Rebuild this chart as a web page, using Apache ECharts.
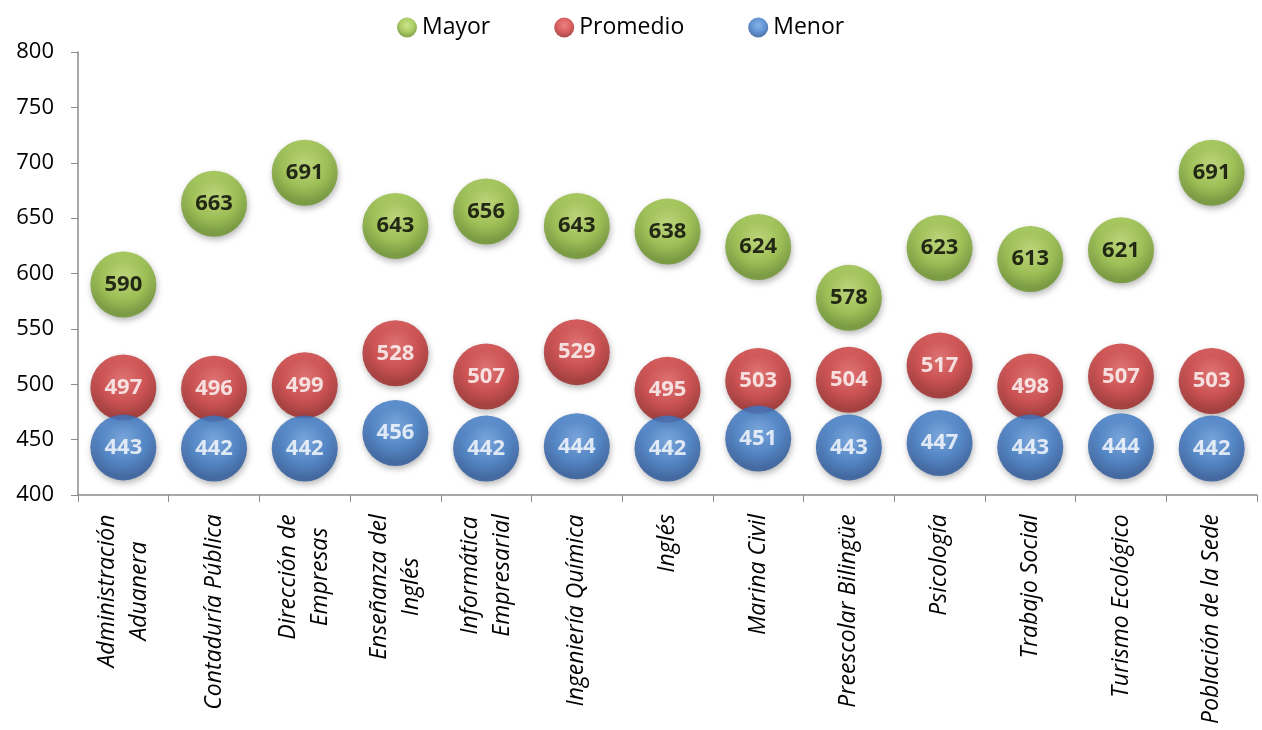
<!DOCTYPE html>
<html>
<head>
<meta charset="utf-8">
<script src="https://cdn.jsdelivr.net/npm/echarts@6/dist/echarts.min.js"></script>
<style>
html,body{margin:0;padding:0;background:#fff;}
#chart{width:1262px;height:730px;}
</style>
</head>
<body>
<div id="chart"></div>
<script>
var categories = [
  "Administración\nAduanera",
  "Contaduría Pública",
  "Dirección de\nEmpresas",
  "Enseñanza del\nInglés",
  "Informática\nEmpresarial",
  "Ingeniería Química",
  "Inglés",
  "Marina Civil",
  "Preescolar Bilingüe",
  "Psicología",
  "Trabajo Social",
  "Turismo Ecológico",
  "Población de la Sede"
];
var mayor    = [590, 663, 691, 643, 656, 643, 638, 624, 578, 623, 613, 621, 691];
var promedio = [497, 496, 499, 528, 507, 529, 495, 503, 504, 517, 498, 507, 503];
var menor    = [443, 442, 442, 456, 442, 444, 442, 451, 443, 447, 443, 444, 442];
var yTicks   = [400, 450, 500, 550, 600, 650, 700, 750, 800];

var FONT = "'Open Sans', 'Liberation Sans', sans-serif";
var LABEL_SIZE = 23;

function ball(light, base, dark) {
  return {
    type: 'radial', x: 0.5, y: 0.38, r: 0.62,
    colorStops: [
      {offset: 0, color: light},
      {offset: 0.55, color: base},
      {offset: 0.92, color: dark},
      {offset: 1, color: dark}
    ]
  };
}
var greenFill = ball('#bedc6c', '#97c13e', '#6a9226');
var redFill   = ball('#e86262', '#d0393a', '#9e2222');
var blueFill  = ball('#6aa0e2', '#3b7ac8', '#27559a');

// measure label line widths to center lines within each rotated label block
var cv = document.createElement('canvas').getContext('2d');
cv.font = "italic " + LABEL_SIZE + "px 'Open Sans'";
var rich = {};
categories.forEach(function (c, i) {
  var w = 0;
  c.split('\n').forEach(function (l) { w = Math.max(w, cv.measureText(l).width); });
  rich['c' + i] = {width: Math.ceil(w) + 2, align: 'center', fontSize: LABEL_SIZE, fontStyle: 'italic', fontFamily: FONT, color: '#000', lineHeight: 32};
});

function mkSeries(name, data, fill, labelColor) {
  return {
    name: name,
    type: 'scatter',
    data: data,
    symbol: 'circle',
    symbolSize: 66,
    itemStyle: {
      color: fill,
      shadowBlur: 6,
      shadowColor: 'rgba(0,0,0,0.35)',
      shadowOffsetX: 1,
      shadowOffsetY: 3
    },
    label: {
      show: true,
      position: 'inside',
      color: labelColor,
      fontSize: 22,
      fontWeight: 'bold',
      fontFamily: FONT,
      textBorderWidth: 0,
      textShadowBlur: 0
    },
    emphasis: {disabled: true}
  };
}

var chart = echarts.init(document.getElementById('chart'));
chart.setOption({
  animation: false,
  backgroundColor: '#fff',
  legend: {
    top: 11,
    left: 392,
    itemGap: 64,
    itemWidth: 20,
    itemHeight: 20,
    textStyle: {fontSize: 23, fontFamily: FONT, color: '#000'},
    data: [
      {name: 'Mayor', icon: 'circle', itemStyle: {color: greenFill}},
      {name: 'Promedio', icon: 'circle', itemStyle: {color: redFill}},
      {name: 'Menor', icon: 'circle', itemStyle: {color: blueFill}}
    ]
  },
  grid: {left: 78, right: 5, top: 52, bottom: 235, containLabel: false},
  xAxis: {
    type: 'category',
    data: categories,
    boundaryGap: true,
    axisLine: {lineStyle: {color: '#8c8c8c', width: 1.5}},
    axisTick: {show: true, length: 7, interval: 0, lineStyle: {color: '#8c8c8c'}},
    axisLabel: {
      interval: 0,
      rotate: 90,
      margin: 18,
      formatter: function (v, i) {
        return v.split('\n').map(function (l) { return '{c' + i + '|' + l + '}'; }).join('\n');
      },
      rich: rich
    },
    splitLine: {show: false}
  },
  yAxis: {
    type: 'value',
    min: yTicks[0],
    max: yTicks[yTicks.length - 1],
    interval: yTicks[1] - yTicks[0],
    axisLine: {show: true, lineStyle: {color: '#8c8c8c', width: 1.5}},
    axisTick: {show: true, length: 7, lineStyle: {color: '#8c8c8c'}},
    axisLabel: {fontSize: 22, fontFamily: FONT, color: '#000', margin: 24},
    splitLine: {show: false}
  },
  series: [
    mkSeries('Mayor', mayor, greenFill, '#000'),
    mkSeries('Promedio', promedio, redFill, '#fff'),
    mkSeries('Menor', menor, blueFill, '#fff')
  ]
});
</script>
</body>
</html>
